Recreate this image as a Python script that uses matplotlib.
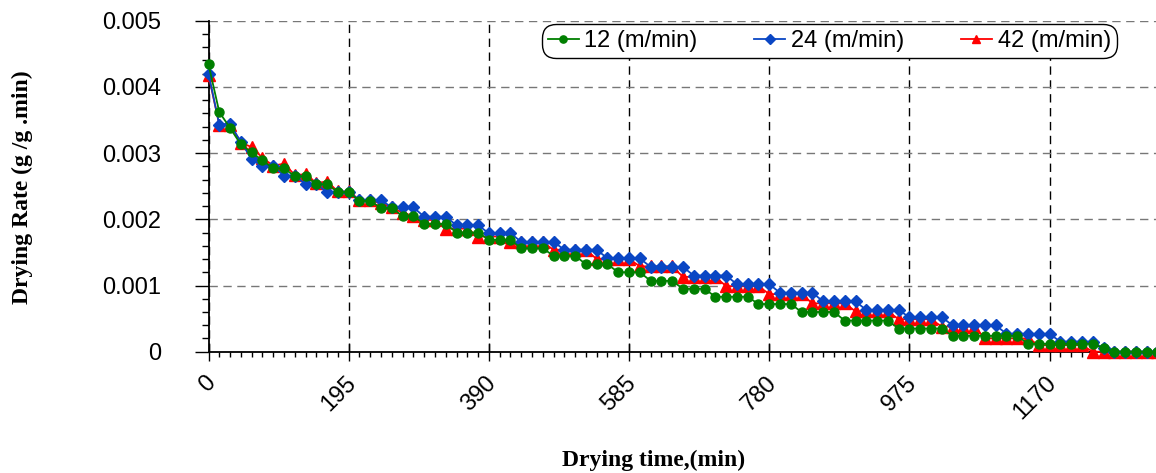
import numpy as np
import matplotlib.pyplot as plt
import matplotlib.transforms as mtrans
from matplotlib.ticker import MultipleLocator, FuncFormatter

plt.rcParams['font.family'] = ['Liberation Sans', 'DejaVu Sans']

# drying time, one reading every 15 min
time = list(range(0, 1321, 15))

rate_12 = [0.00434, 0.00362, 0.00338, 0.00313, 0.00301, 0.00289, 0.00277, 0.00277, 0.00265, 0.00265,
           0.00253, 0.00253, 0.00241, 0.00241, 0.00228, 0.00228, 0.00217, 0.00217, 0.00205, 0.00205,
           0.00193, 0.00193, 0.00193, 0.00180, 0.00180, 0.00180, 0.00169, 0.00169, 0.00169, 0.00156,
           0.00156, 0.00156, 0.00145, 0.00145, 0.00145, 0.00132, 0.00132, 0.00132, 0.00120, 0.00120,
           0.00120, 0.00107, 0.00107, 0.00107, 0.00095, 0.00095, 0.00095, 0.00083, 0.00083, 0.00083,
           0.00083, 0.00072, 0.00072, 0.00072, 0.00072, 0.00060, 0.00060, 0.00060, 0.00060, 0.00047,
           0.00047, 0.00047, 0.00047, 0.00047, 0.00035, 0.00035, 0.00035, 0.00035, 0.00035, 0.00024,
           0.00024, 0.00024, 0.00024, 0.00024, 0.00024, 0.00024, 0.00012, 0.00012, 0.00012, 0.00012,
           0.00012, 0.00012, 0.00012, 0.00005, 0.0, 0.0, 0.0, 0.0, 0.0]

rate_24 = [0.00420, 0.00343, 0.00344, 0.00317, 0.00291, 0.00280, 0.00280, 0.00266, 0.00266, 0.00253,
           0.00253, 0.00241, 0.00241, 0.00241, 0.00229, 0.00229, 0.00229, 0.00218, 0.00218, 0.00218,
           0.00204, 0.00204, 0.00204, 0.00191, 0.00191, 0.00191, 0.00179, 0.00179, 0.00179, 0.00166,
           0.00166, 0.00166, 0.00166, 0.00154, 0.00154, 0.00154, 0.00154, 0.00141, 0.00141, 0.00141,
           0.00141, 0.00128, 0.00128, 0.00128, 0.00128, 0.00115, 0.00115, 0.00115, 0.00115, 0.00102,
           0.00102, 0.00102, 0.00102, 0.00089, 0.00089, 0.00089, 0.00089, 0.00076, 0.00076, 0.00076,
           0.00076, 0.00063, 0.00063, 0.00063, 0.00063, 0.00052, 0.00052, 0.00052, 0.00052, 0.00040,
           0.00040, 0.00040, 0.00040, 0.00040, 0.00027, 0.00027, 0.00027, 0.00027, 0.00027, 0.00015,
           0.00015, 0.00015, 0.00015, 0.00005, 0.0, 0.0, 0.0, 0.0, 0.0]

rate_42 = [0.00418, 0.00343, 0.00343, 0.00316, 0.00309, 0.00293, 0.00281, 0.00284, 0.00267, 0.00268,
           0.00255, 0.00257, 0.00242, 0.00242, 0.00229, 0.00229, 0.00224, 0.00218, 0.00210, 0.00205,
           0.00199, 0.00199, 0.00186, 0.00186, 0.00186, 0.00174, 0.00174, 0.00174, 0.00165, 0.00165,
           0.00165, 0.00165, 0.00154, 0.00154, 0.00154, 0.00154, 0.00140, 0.00140, 0.00140, 0.00140,
           0.00129, 0.00129, 0.00129, 0.00129, 0.00113, 0.00113, 0.00113, 0.00113, 0.00099, 0.00099,
           0.00099, 0.00099, 0.00087, 0.00087, 0.00087, 0.00087, 0.00073, 0.00073, 0.00073, 0.00073,
           0.00061, 0.00061, 0.00061, 0.00061, 0.00049, 0.00049, 0.00049, 0.00049, 0.00038, 0.00038,
           0.00038, 0.00038, 0.00020, 0.00020, 0.00020, 0.00020, 0.00020, 0.00010, 0.00010, 0.00010,
           0.00010, 0.00010, 0.0, 0.0, 0.0, 0.0, 0.0, 0.0, 0.0]

x_ticks = [0, 195, 390, 585, 780, 975, 1170]

fig = plt.figure(figsize=(11.56, 4.73), dpi=100)
ax = fig.add_axes([208.5/1156, 1-351.7/473, 1-208.5/1156, 331/473])

l42, = ax.plot(time, rate_42, color='#ff0000', marker='^', ms=8, lw=1.3, clip_on=False, zorder=3)
l24, = ax.plot(time, rate_24, color='#0a46c4', marker='D', ms=6.5, lw=1.3, clip_on=False, zorder=4)
l12, = ax.plot(time, rate_12, color='#007f00', marker='o', ms=6.5, lw=1.3, clip_on=False, zorder=5)

ax.set_xlim(0, 1318)
ax.set_ylim(0, 0.005)
ax.set_xticks(x_ticks)
ax.xaxis.set_minor_locator(MultipleLocator(15))
ax.yaxis.set_major_locator(MultipleLocator(0.001))
ax.yaxis.set_minor_locator(MultipleLocator(0.0002))
ax.yaxis.set_major_formatter(FuncFormatter(lambda v, p: '0' if v == 0 else '%.3f' % v))

ax.grid(axis='x', color='black', ls=(0, (6, 4)), lw=1)
ax.grid(axis='y', color='#777777', ls=(0, (6, 4)), lw=1)
ax.set_axisbelow(True)

for s in ['top', 'right']:
    ax.spines[s].set_visible(False)
for s in ['left', 'bottom']:
    ax.spines[s].set_linewidth(1.3)

ax.tick_params(axis='y', which='major', length=10, width=1, direction='out', pad=24, labelsize=17)
ax.tick_params(axis='y', which='minor', length=4.8, width=1, direction='out')
ax.tick_params(axis='x', which='major', length=13, width=1, direction='inout', pad=8, labelsize=17)
ax.tick_params(axis='x', which='minor', length=3.6, width=1, direction='out')
shift = mtrans.ScaledTranslation(-4/100, 0, fig.dpi_scale_trans)
for lab in ax.get_xticklabels():
    lab.set_rotation(45)
    lab.set_ha('right')
    lab.set_va('top')
    lab.set_rotation_mode('anchor')
    lab.set_transform(lab.get_transform() + shift)

fig.text(22/1156, 1-187/473, 'Drying Rate (g /g .min)', rotation=90, ha='center', va='center',
         family='Liberation Serif', weight='bold', fontsize=17)
fig.text(654/1156, 1-460/473, 'Drying time,(min)', ha='center', va='center',
         family='Liberation Serif', weight='bold', fontsize=17)

leg = ax.legend([l12, l24, l42], ['12 (m/min)', '24 (m/min)', '42 (m/min)'], ncol=3,
                loc='upper left', bbox_to_anchor=(542/1156, 1-24/473), bbox_transform=fig.transFigure,
                fontsize=17, frameon=True, fancybox=True, handlelength=1.3, handletextpad=0.25,
                columnspacing=2.4, borderpad=0.25, borderaxespad=0, markerscale=0.8)
leg.get_frame().set_edgecolor('black')
leg.get_frame().set_linewidth(1)
leg.get_frame().set_alpha(1)
leg.get_frame().set_boxstyle('round', pad=0, rounding_size=0.6)

fig.savefig('out.png', dpi=100)
